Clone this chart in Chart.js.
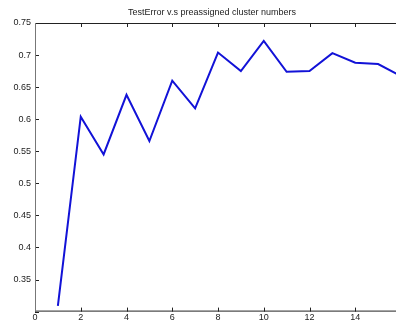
<!DOCTYPE html>
<html>
<head>
<meta charset="utf-8">
<script src="https://cdn.jsdelivr.net/npm/chart.js@4/dist/chart.umd.min.js"></script>
<style>
  html, body { margin: 0; padding: 0; background: #fff; overflow: hidden; }
  canvas { display: block; }
</style>
</head>
<body>
<canvas id="c" width="402" height="321"></canvas>
<script>
// Cluster counts and the test error measured for each
const clusterNumbers = [1, 2, 3, 4, 5, 6, 7, 8, 9, 10, 11, 12, 13, 14, 15, 16];
const testError = [0.309, 0.604, 0.545, 0.638, 0.566, 0.660, 0.617, 0.704, 0.675, 0.722, 0.674, 0.675, 0.703, 0.688, 0.686, 0.667];
const xTicks = [0, 2, 4, 6, 8, 10, 12, 14, 16];
const yTicks = [0.3, 0.35, 0.4, 0.45, 0.5, 0.55, 0.6, 0.65, 0.7, 0.75];
const chartTitle = 'TestError v.s preassigned cluster numbers';

const FONT = 'Liberation Sans, Arial, sans-serif';

// Box axes with inward tick marks, drawn on top of the data
const boxAxes = {
  id: 'boxAxes',
  afterDatasetsDraw(chart) {
    const { ctx, chartArea: a, scales: { x, y } } = chart;
    ctx.save();
    ctx.lineWidth = 1;
    ctx.strokeStyle = '#222';
    ctx.beginPath();
    ctx.moveTo(a.left, a.top + 0.5); ctx.lineTo(a.right, a.top + 0.5);
    ctx.moveTo(a.left, a.bottom - 0.5); ctx.lineTo(a.right, a.bottom - 0.5);
    ctx.moveTo(a.right - 0.5, a.top); ctx.lineTo(a.right - 0.5, a.bottom);
    xTicks.forEach(v => {
      const px = Math.round(x.getPixelForValue(v)) + 0.5;
      ctx.moveTo(px, a.bottom); ctx.lineTo(px, a.bottom - 4);
      ctx.moveTo(px, a.top); ctx.lineTo(px, a.top + 4);
    });
    yTicks.forEach(v => {
      const py = Math.round(y.getPixelForValue(v)) + 0.5;
      ctx.moveTo(a.left, py); ctx.lineTo(a.left + 4, py);
      ctx.moveTo(a.right, py); ctx.lineTo(a.right - 4, py);
    });
    ctx.stroke();
    ctx.strokeStyle = '#777';
    ctx.beginPath();
    ctx.moveTo(a.left + 0.5, a.top); ctx.lineTo(a.left + 0.5, a.bottom);
    ctx.stroke();
    // title centred over the axes box
    ctx.fillStyle = '#222';
    ctx.font = '9px ' + FONT;
    ctx.textAlign = 'center';
    ctx.textBaseline = 'middle';
    ctx.fillText(chartTitle, (a.left + a.right) / 2 - 6, 13);
    ctx.restore();
  }
};

new Chart(document.getElementById('c'), {
  type: 'line',
  data: {
    datasets: [{
      data: clusterNumbers.map((n, i) => ({ x: n, y: testError[i] })),
      borderColor: 'rgb(18,18,215)',
      borderWidth: 2,
      pointRadius: 0,
      tension: 0,
      fill: false
    }]
  },
  options: {
    responsive: false,
    animation: false,
    events: [],
    layout: { autoPadding: false, padding: { top: 23, right: 1, left: 0, bottom: 0 } },
    plugins: { legend: { display: false }, tooltip: { enabled: false }, title: { display: false } },
    scales: {
      x: {
        type: 'linear',
        min: 0, max: 16,
        afterBuildTicks: s => { s.ticks = xTicks.map(v => ({ value: v })); },
        afterFit: s => { s.height = 9; },
        grid: { display: false, drawTicks: false },
        border: { display: false },
        ticks: {
          padding: 1, maxRotation: 0, autoSkip: false, color: '#222', font: { family: FONT, size: 9 },
          callback: v => (v >= 16 ? '' : String(v))
        }
      },
      y: {
        min: 0.3, max: 0.75,
        afterBuildTicks: s => { s.ticks = yTicks.map(v => ({ value: v })); },
        afterFit: s => { s.width = 35; },
        grid: { display: false, drawTicks: false },
        border: { display: false },
        ticks: {
          padding: 4, autoSkip: false, color: '#222', font: { family: FONT, size: 9 },
          callback: v => (v < 0.32 ? '' : String(Math.round(v * 100) / 100))
        }
      }
    }
  },
  plugins: [boxAxes]
});
</script>
</body>
</html>
